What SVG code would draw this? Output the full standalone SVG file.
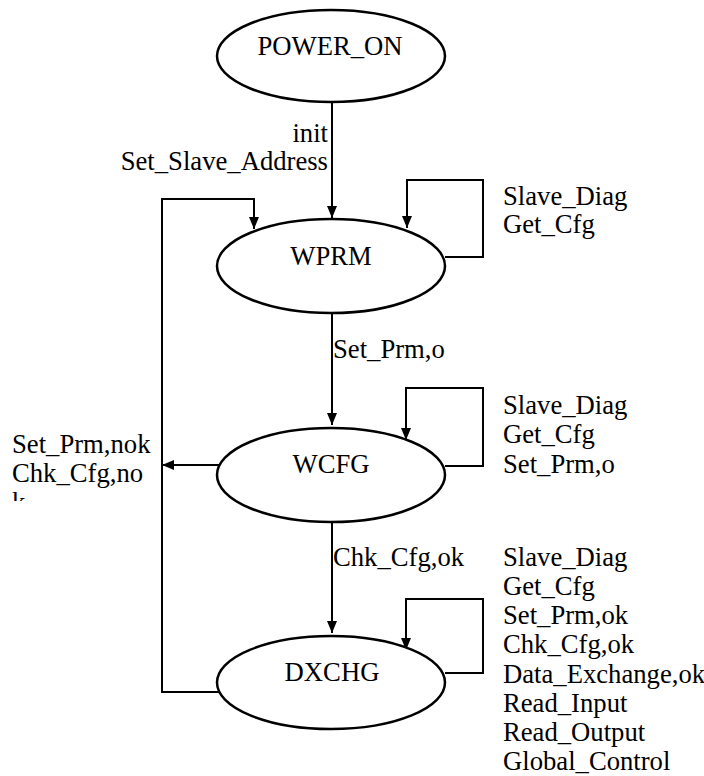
<svg xmlns="http://www.w3.org/2000/svg" width="704" height="776" viewBox="0 0 704 776" font-family="'Liberation Serif', 'Times New Roman', Times, serif">
<style>
.node ellipse{fill:#fff;stroke:#000;stroke-width:2.5}
text{font-family:'Liberation Serif','Times New Roman',Times,serif;font-size:26.67px;fill:#000}
.c{text-anchor:middle}
.r{text-anchor:end}
.edge{fill:none;stroke:#000;stroke-width:2}
</style>
<defs>
<marker id="ah" markerUnits="userSpaceOnUse" markerWidth="12" markerHeight="10" refX="12" refY="5" orient="auto">
<path d="M0,0 L12,5 L0,10 z" fill="#000"/>
</marker>
<clipPath id="lc"><rect x="0" y="420" width="160" height="81"/></clipPath>
</defs>
<rect width="704" height="776" fill="#fff"/>
<g id="connectors">
<path class="edge" d="M332 102 V218" marker-end="url(#ah)"/>
<path class="edge" d="M445 257 H483 V180 H407 V228" marker-end="url(#ah)"/>
<path class="edge" d="M332 313 V425" marker-end="url(#ah)"/>
<path class="edge" d="M219 465 H162" marker-end="url(#ah)"/>
<path class="edge" d="M445 466 H483 V388 H406 V440" marker-end="url(#ah)"/>
<path class="edge" d="M332 522 V633" marker-end="url(#ah)"/>
<path class="edge" d="M445 673 H483 V599 H406 V650" marker-end="url(#ah)"/>
<path class="edge" d="M219 692 H162 V199 H254 V229" marker-end="url(#ah)"/>
<text class="r" x="328" y="142">init</text>
<text class="r" x="328" y="170">Set_Slave_Address</text>
<text x="503" y="205">Slave_Diag</text>
<text x="503" y="233">Get_Cfg</text>
<text x="333" y="358">Set_Prm,o</text>
<g clip-path="url(#lc)">
<text x="12" y="453">Set_Prm,nok</text>
<text x="12" y="482">Chk_Cfg,no</text>
<text x="12" y="511">k</text>
</g>
<text x="503" y="414">Slave_Diag</text>
<text x="503" y="443">Get_Cfg</text>
<text x="503" y="473">Set_Prm,o</text>
<text x="333" y="566">Chk_Cfg,ok</text>
<text x="503" y="566">Slave_Diag</text>
<text x="503" y="595">Get_Cfg</text>
<text x="503" y="624">Set_Prm,ok</text>
<text x="503" y="653">Chk_Cfg,ok</text>
<text x="503" y="683">Data_Exchange,ok</text>
<text x="503" y="712">Read_Input</text>
<text x="503" y="741">Read_Output</text>
<text x="503" y="770">Global_Control</text>
</g>
<g id="POWER_ON" class="node">
<ellipse cx="331" cy="56" rx="114" ry="46"/>
<text class="c" x="330" y="55">POWER_ON</text>
</g>
<g id="WPRM" class="node">
<ellipse cx="331" cy="266" rx="114" ry="47"/>
<text class="c" x="331" y="265">WPRM</text>
</g>
<g id="WCFG" class="node">
<ellipse cx="331" cy="475" rx="114" ry="47"/>
<text class="c" x="331" y="473">WCFG</text>
</g>
<g id="DXCHG" class="node">
<ellipse cx="331" cy="682.5" rx="114" ry="46.5"/>
<text class="c" x="332" y="681">DXCHG</text>
</g>
</svg>
